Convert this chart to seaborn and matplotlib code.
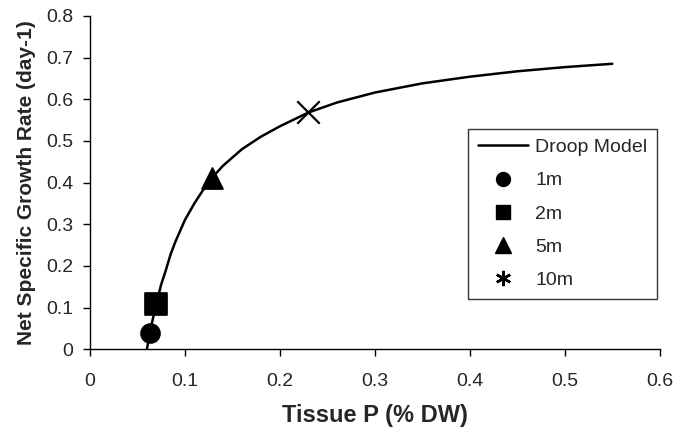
import numpy as np
import pandas as pd
import matplotlib
matplotlib.use('Agg')
import matplotlib.pyplot as plt
from matplotlib.lines import Line2D
from matplotlib.ticker import FuncFormatter
import seaborn as sns

# Droop model curve
curve_p = [0.06, 0.065, 0.07, 0.075, 0.08, 0.085, 0.09, 0.10, 0.11, 0.12, 0.13, 0.14,
           0.16, 0.18, 0.20, 0.23, 0.26, 0.30, 0.35, 0.40, 0.45, 0.50, 0.55]
curve_mu = [0.0, 0.06, 0.11, 0.155, 0.19, 0.228, 0.258, 0.31, 0.35, 0.385, 0.415, 0.44,
            0.48, 0.51, 0.535, 0.568, 0.592, 0.616, 0.638, 0.654, 0.667, 0.677, 0.685]

# measured stations
depths = ['1m', '2m', '5m', '10m']
tissue_p = [0.063, 0.070, 0.129, 0.230]
growth = [0.040, 0.108, 0.410, 0.569]

sns.set_style('ticks')
plt.rcParams['font.family'] = ['Liberation Sans', 'DejaVu Sans']

fig, ax = plt.subplots(figsize=(6.76, 4.29), dpi=100)
fig.subplots_adjust(left=0.133, right=0.976, bottom=0.186, top=0.963)

curve = pd.DataFrame({'p': curve_p, 'mu': curve_mu})
sns.lineplot(data=curve, x='p', y='mu', color='black', linewidth=1.8, ax=ax)

markers = ['o', 's', '^', 'x']
sizes = [190, 230, 230, 260]
for lab, xp, yp, m, s in zip(depths, tissue_p, growth, markers, sizes):
    if m == 'x':
        sns.scatterplot(x=[xp], y=[yp], marker=m, s=s, color='black', linewidth=1.6, ax=ax)
    else:
        sns.scatterplot(x=[xp], y=[yp], marker=m, s=s, color='black', edgecolor='black', ax=ax)

ax.set_xlim(0, 0.6)
ax.set_ylim(0, 0.8)
ax.set_xticks(np.arange(0, 0.61, 0.1))
ax.set_yticks(np.arange(0, 0.81, 0.1))
fmt = FuncFormatter(lambda v, pos: f'{round(v, 1):g}')
ax.xaxis.set_major_formatter(fmt)
ax.yaxis.set_major_formatter(fmt)
ax.tick_params(axis='both', labelsize=14, length=5, width=1, color='black', direction='out')
ax.tick_params(axis='x', pad=12)
ax.tick_params(axis='y', pad=7)
for sp in ['left', 'bottom']:
    ax.spines[sp].set_color('black')
    ax.spines[sp].set_linewidth(1)
sns.despine(ax=ax)

ax.set_xlabel('Tissue P (% DW)', fontsize=17, fontweight='bold', labelpad=10)
ax.set_ylabel('Net Specific Growth Rate (day-1)', fontsize=15, fontweight='bold', labelpad=7)

# legend built by hand (the 10m symbol in the key looks like a star)
handles = [Line2D([], [], color='black', lw=1.8, label='Droop Model'),
           Line2D([], [], color='black', lw=0, marker='o', markersize=10, label='1m'),
           Line2D([], [], color='black', lw=0, marker='s', markersize=10, label='2m'),
           Line2D([], [], color='black', lw=0, marker='^', markersize=11, label='5m'),
           Line2D([], [], color='black', lw=0, marker=(6, 2, 0), markersize=11,
                  markeredgewidth=1.8, label='10m')]
leg = ax.legend(handles=handles, loc='upper right', bbox_to_anchor=(0.995, 0.661),
                borderaxespad=0, fontsize=14, frameon=True, fancybox=False,
                handlelength=2.6, labelspacing=0.8, borderpad=0.5, handletextpad=0.35)
leg.get_frame().set_edgecolor('black')
leg.get_frame().set_linewidth(1)

plt.savefig('out.png', dpi=100)
